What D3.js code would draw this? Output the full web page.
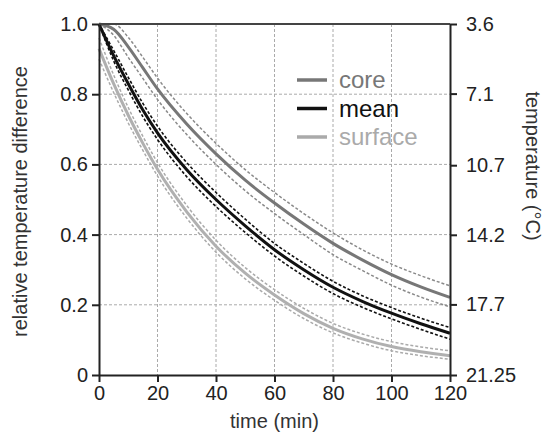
<!DOCTYPE html>
<html>
<head>
<meta charset="utf-8">
<script src="https://cdn.jsdelivr.net/npm/d3@7"></script>
<style>
  body { margin: 0; background: #fff; }
  text { font-family: "Liberation Sans", Arial, sans-serif; fill: #222; }
</style>
</head>
<body>
<div id="chart"></div>
<script>
// time points (min)
const times = [0, 5, 10, 15, 20, 30, 40, 50, 60, 70, 80, 90, 100, 110, 120];

// relative temperature difference
const core      = [1.0, 0.985, 0.935, 0.875, 0.815, 0.715, 0.630, 0.555, 0.490, 0.430, 0.375, 0.328, 0.286, 0.251, 0.221];
const coreHi    = [1.0, 1.0,   0.962, 0.905, 0.846, 0.745, 0.660, 0.585, 0.520, 0.460, 0.405, 0.357, 0.316, 0.283, 0.254];
const coreLo    = [1.0, 0.968, 0.905, 0.845, 0.785, 0.685, 0.600, 0.525, 0.460, 0.400, 0.343, 0.298, 0.256, 0.222, 0.194];
const mean      = [1.0, 0.910, 0.830, 0.755, 0.690, 0.585, 0.500, 0.425, 0.357, 0.300, 0.250, 0.210, 0.176, 0.146, 0.119];
const meanHi    = [1.0, 0.925, 0.848, 0.774, 0.709, 0.605, 0.520, 0.444, 0.375, 0.318, 0.267, 0.226, 0.192, 0.162, 0.135];
const meanLo    = [1.0, 0.895, 0.812, 0.736, 0.671, 0.565, 0.480, 0.406, 0.339, 0.282, 0.232, 0.193, 0.160, 0.130, 0.102];
const surface   = [0.93, 0.830, 0.740, 0.660, 0.586, 0.465, 0.367, 0.290, 0.228, 0.175, 0.133, 0.103, 0.081, 0.066, 0.055];
const surfaceHi = [0.96, 0.855, 0.762, 0.680, 0.605, 0.483, 0.384, 0.306, 0.243, 0.190, 0.147, 0.117, 0.095, 0.080, 0.069];
const surfaceLo = [0.90, 0.805, 0.718, 0.640, 0.567, 0.447, 0.350, 0.274, 0.213, 0.161, 0.120, 0.091, 0.069, 0.055, 0.045];

// axis ticks
const xTicks = [0, 20, 40, 60, 80, 100, 120];
const yTicks = [0, 0.2, 0.4, 0.6, 0.8, 1.0];
const yTickLabels = ["0", "0.2", "0.4", "0.6", "0.8", "1.0"];
const tempTicks = ["3.6", "7.1", "10.7", "14.2", "17.7", "21.25"];

const width = 549, height = 441;
const margin = { top: 24, right: 99, bottom: 66, left: 99 };
const w = width - margin.left - margin.right;
const h = height - margin.top - margin.bottom;

const svg = d3.select("#chart").append("svg")
  .attr("width", width)
  .attr("height", height);

const g = svg.append("g")
  .attr("transform", `translate(${margin.left},${margin.top})`);

const x = d3.scaleLinear().domain([0, 120]).range([0, w]);
const y = d3.scaleLinear().domain([0, 1]).range([h, 0]);
const yT = d3.scaleLinear().domain([21.25, 3.6]).range([h, 0]);

// grid
g.append("g").selectAll("line")
  .data(xTicks.slice(1, -1))
  .join("line")
  .attr("x1", d => x(d)).attr("x2", d => x(d))
  .attr("y1", 0).attr("y2", h)
  .attr("stroke", "#aaa").attr("stroke-width", 1).attr("stroke-dasharray", "3,2");

g.append("g").selectAll("line")
  .data(yTicks.slice(1, -1))
  .join("line")
  .attr("x1", 0).attr("x2", w)
  .attr("y1", d => y(d)).attr("y2", d => y(d))
  .attr("stroke", "#aaa").attr("stroke-width", 1).attr("stroke-dasharray", "3,2");

// curves
const line = d3.line()
  .x((d, i) => x(times[i]))
  .y(d => y(d))
  .curve(d3.curveMonotoneX);

const series = [
  { vals: coreHi, color: "#8a8a8a", width: 1.5, dash: "3,2" },
  { vals: coreLo, color: "#8a8a8a", width: 1.5, dash: "3,2" },
  { vals: surfaceHi, color: "#aaa", width: 1.5, dash: "3,2" },
  { vals: surfaceLo, color: "#aaa", width: 1.5, dash: "3,2" },
  { vals: meanHi, color: "#111", width: 1.6, dash: "3,2" },
  { vals: meanLo, color: "#111", width: 1.6, dash: "3,2" },
  { vals: core, color: "#777", width: 3, dash: null },
  { vals: surface, color: "#b0b0b0", width: 3, dash: null },
  { vals: mean, color: "#111", width: 3, dash: null }
];

g.append("g").selectAll("path")
  .data(series)
  .join("path")
  .attr("d", d => line(d.vals))
  .attr("fill", "none")
  .attr("stroke", d => d.color)
  .attr("stroke-width", d => d.width)
  .attr("stroke-dasharray", d => d.dash);

// top border
g.append("line")
  .attr("x1", 0).attr("x2", w).attr("y1", 0).attr("y2", 0)
  .attr("stroke", "#444").attr("stroke-width", 2);

// axes
const xAxis = g.append("g")
  .attr("transform", `translate(0,${h})`)
  .call(d3.axisBottom(x).tickValues(xTicks).tickSize(7).tickPadding(4).tickSizeOuter(0));

const yAxis = g.append("g")
  .call(d3.axisLeft(y).tickValues(yTicks).tickFormat((d, i) => yTickLabels[i]).tickSize(7).tickPadding(4).tickSizeOuter(0));

const rAxis = g.append("g")
  .attr("transform", `translate(${w},0)`)
  .call(d3.axisRight(yT).tickValues(tempTicks.map(Number)).tickFormat((d, i) => tempTicks[i]).tickSize(7).tickPadding(9).tickSizeOuter(0));

[xAxis, yAxis, rAxis].forEach(a => {
  a.select(".domain").attr("stroke", "#222").attr("stroke-width", 2);
  a.selectAll(".tick line").attr("stroke", "#222").attr("stroke-width", 2);
  a.selectAll("text").style("font-size", "20px").attr("fill", "#222");
});

// axis titles
svg.append("text")
  .attr("x", margin.left + w / 2)
  .attr("y", 428)
  .attr("text-anchor", "middle")
  .style("font-size", "20px")
  .style("fill", "#333")
  .text("time (min)");

svg.append("text")
  .attr("transform", `translate(27,${margin.top + h / 2 + 2}) rotate(-90)`)
  .attr("text-anchor", "middle")
  .style("font-size", "20px")
  .style("fill", "#333")
  .text("relative temperature difference");

svg.append("text")
  .attr("transform", `translate(526,${166}) rotate(90)`)
  .attr("text-anchor", "middle")
  .style("font-size", "20px")
  .style("fill", "#333")
  .text("temperature (°C)");

// legend
const legendItems = [
  { name: "core", color: "#777", text: "#777" },
  { name: "mean", color: "#111", text: "#111" },
  { name: "surface", color: "#aaa", text: "#aaa" }
];

const legend = svg.append("g").attr("transform", "translate(297,80)");
legend.selectAll("line")
  .data(legendItems)
  .join("line")
  .attr("x1", 0).attr("x2", 30)
  .attr("y1", (d, i) => i * 28.5).attr("y2", (d, i) => i * 28.5)
  .attr("stroke", d => d.color).attr("stroke-width", 3.5);

legend.selectAll("text")
  .data(legendItems)
  .join("text")
  .attr("x", 42)
  .attr("y", (d, i) => i * 28.5 + 8)
  .style("font-size", "24px")
  .style("fill", d => d.text)
  .text(d => d.name);
</script>
</body>
</html>
